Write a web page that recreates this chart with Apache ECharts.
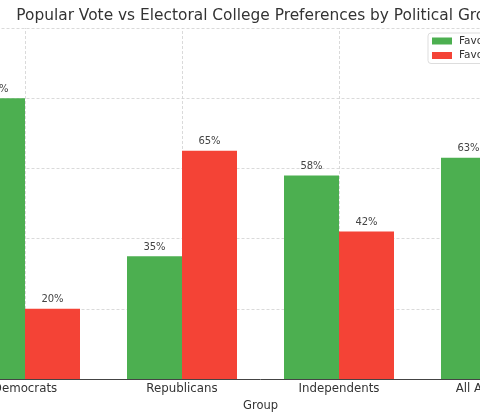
<!DOCTYPE html>
<html>
<head>
<meta charset="utf-8">
<script src="https://cdn.jsdelivr.net/npm/echarts@6/dist/echarts.min.js"></script>
<style>
  html, body { margin: 0; padding: 0; background: #fff; overflow: hidden; width: 480px; height: 420px; }
  /* the reference is a crop of a wider figure, so the canvas is shifted left */
  #chart { position: absolute; left: -110px; top: 0; width: 760px; height: 420px; }
</style>
</head>
<body>
<div id="chart"></div>
<script>
// data
var groups = ['Democrats', 'Republicans', 'Independents', 'All Americans'];
var popularVote = [80, 35, 58, 63];
var electoralCollege = [20, 65, 42, 37];
var seriesNames = ['Favor Popular Vote', 'Favor Electoral College'];
var yTicks = [0, 20, 40, 60, 80, 100];

var OFF = 110; // shift of the canvas

var chart = echarts.init(document.getElementById('chart'));

var gridLine = { color: '#d0d0d0', width: 0.8, type: [3, 2] };
var font = 'DejaVu Sans';

var option = {
  animation: false,
  graphic: [{
    type: 'text',
    x: 260.5 + OFF,
    y: 8,
    style: {
      text: 'Popular Vote vs Electoral College Preferences by Political Group',
      fontFamily: font,
      fontSize: 15.4,
      fill: '#333',
      textAlign: 'center'
    }
  }],
  legend: {
    data: seriesNames,
    orient: 'vertical',
    left: 428 + OFF,
    top: 33,
    padding: [2, 4, 2, 4],
    itemWidth: 20,
    itemHeight: 7,
    itemGap: 2.5,
    icon: 'rect',
    backgroundColor: '#fff',
    borderColor: '#ddd',
    borderWidth: 1,
    borderRadius: 3,
    textStyle: { fontFamily: font, fontSize: 10.5, color: '#333', lineHeight: 12, padding: [0, 0, 0, 2] }
  },
  grid: { left: 56.5, width: 628, top: 28, bottom: 41, containLabel: false },
  xAxis: {
    type: 'category',
    data: groups,
    name: 'Group',
    nameLocation: 'middle',
    nameGap: 15,
    nameTextStyle: { fontFamily: font, fontSize: 11.5, color: '#333' },
    axisLine: { lineStyle: { color: '#444', width: 1 } },
    axisTick: { alignWithLabel: true, length: 3.5, lineStyle: { color: '#444' } },
    axisLabel: { margin: 4, fontFamily: font, fontSize: 11.8, color: '#333', interval: 0 },
    splitLine: { show: false }
  },
  yAxis: {
    type: 'value',
    min: yTicks[0],
    max: yTicks[yTicks.length - 1],
    interval: 20,
    axisLine: { show: false },
    axisTick: { show: false },
    axisLabel: { show: false },
    splitLine: { lineStyle: gridLine }
  },
  series: [
    {
      name: 'grid-x',
      type: 'line',
      data: [null, null, null, null],
      z: 0,
      silent: true,
      markLine: {
        z: 0,
        silent: true,
        symbol: 'none',
        label: { show: false },
        lineStyle: gridLine,
        data: groups.map(function (g) { return { xAxis: g }; })
      }
    },
    {
      name: seriesNames[0],
      type: 'bar',
      data: popularVote,
      barWidth: 55,
      barGap: '0%',
      itemStyle: { color: '#4CAF50' },
      label: {
        show: true, position: 'top', distance: 4,
        formatter: '{c}%', fontFamily: font, fontSize: 10, color: '#444'
      }
    },
    {
      name: seriesNames[1],
      type: 'bar',
      data: electoralCollege,
      barWidth: 55,
      barGap: '0%',
      itemStyle: { color: '#F44336' },
      label: {
        show: true, position: 'top', distance: 4,
        formatter: '{c}%', fontFamily: font, fontSize: 10, color: '#444'
      }
    }
  ]
};

chart.setOption(option);
</script>
</body>
</html>
